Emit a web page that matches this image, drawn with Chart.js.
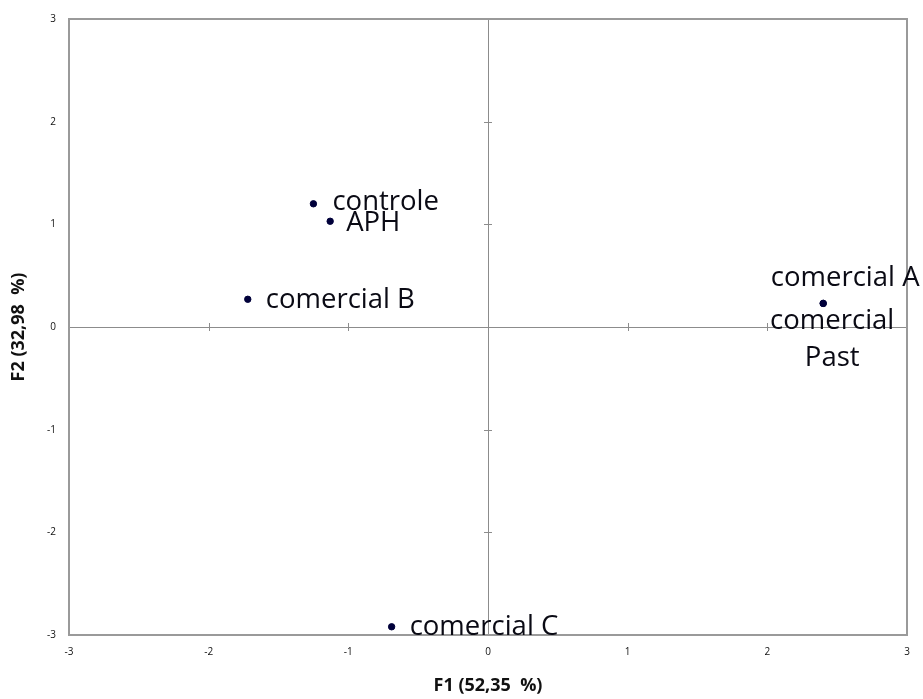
<!DOCTYPE html>
<html><head><meta charset="utf-8">
<script src="https://cdn.jsdelivr.net/npm/chart.js@4.4.0/dist/chart.umd.min.js"></script>
<style>html,body{margin:0;padding:0;background:#fff}#wrap{width:923px;height:699px}</style>
</head><body><div id="wrap"><canvas id="c" width="923" height="699"></canvas></div>
<script>
const names = ["controle", "APH", "comercial B", "comercial C", "comercial A", "comercial Past"];
const f1Values = [-1.25, -1.13, -1.72, -0.69, 2.40, 2.40];
const f2Values = [1.20, 1.03, 0.27, -2.92, 0.23, 0.23];
const tickValues = [-3, -2, -1, 0, 1, 2, 3];
const xTitle = "F1 (52,35  %)";
const yTitle = "F2 (32,98  %)";

const FONT = "'Open Sans', 'DejaVu Sans', sans-serif";
// label placement relative to point (px)
const labelStyle = {
  "controle": {dx: 19, dy: -2, align: "left"},
  "APH": {dx: 16, dy: 2, align: "left"},
  "comercial B": {dx: 18, dy: 1, align: "left"},
  "comercial C": {dx: 18, dy: 0, align: "left"},
  "comercial A": {dx: 22, dy: -25, align: "center"},
  "comercial Past": {dx: 9, dy: 18, align: "center", lines: ["comercial", "Past"], lh: 37}
};

const axesPlugin = {
  id: "axesCross",
  beforeDatasetsDraw(chart) {
    const {ctx, chartArea: a, scales: {x, y}} = chart;
    const x0 = x.getPixelForValue(0), y0 = y.getPixelForValue(0);
    ctx.save();
    ctx.strokeStyle = "#8c8c8c";
    ctx.lineWidth = 1;
    ctx.beginPath();
    ctx.moveTo(a.left, Math.round(y0) + 0.5); ctx.lineTo(a.right, Math.round(y0) + 0.5);
    ctx.moveTo(Math.round(x0) + 0.5, a.top); ctx.lineTo(Math.round(x0) + 0.5, a.bottom);
    tickValues.forEach(v => {
      if (v === 0) return;
      const px = Math.round(x.getPixelForValue(v)) + 0.5;
      ctx.moveTo(px, y0 - 4); ctx.lineTo(px, y0 + 4);
      const py = Math.round(y.getPixelForValue(v)) + 0.5;
      ctx.moveTo(x0 - 4, py); ctx.lineTo(x0 + 4, py);
    });
    ctx.stroke();
    ctx.lineWidth = 2;
    ctx.strokeStyle = "#9a9a9a";
    ctx.strokeRect(a.left, a.top, a.right - a.left, a.bottom - a.top);
    ctx.restore();
  },
  afterDatasetsDraw(chart) {
    const {ctx} = chart;
    const meta = chart.getDatasetMeta(0);
    ctx.save();
    ctx.fillStyle = "#0a0a14";
    ctx.font = "27.5px " + FONT;
    ctx.textBaseline = "middle";
    meta.data.forEach((pt, i) => {
      const s = labelStyle[names[i]];
      ctx.textAlign = s.align;
      const lines = s.lines || [names[i]];
      lines.forEach((ln, k) => {
        ctx.fillText(ln, pt.x + s.dx, pt.y + s.dy + k * (s.lh || 0));
      });
    });
    ctx.restore();
  }
};

new Chart(document.getElementById("c"), {
  type: "scatter",
  data: {
    datasets: [{
      data: f1Values.map((v, i) => ({x: v, y: f2Values[i]})),
      backgroundColor: "#00003a",
      borderColor: "#00003a",
      pointRadius: 3.2,
      pointHoverRadius: 3.2
    }]
  },
  options: {
    responsive: false,
    animation: false,
    layout: {padding: {left: 8, right: 16, top: 19, bottom: 2}},
    plugins: {legend: {display: false}, tooltip: {enabled: false}},
    scales: {
      x: {
        type: "linear", min: -3, max: 3,
        afterBuildTicks: s => { s.ticks = tickValues.map(v => ({value: v})); },
        grid: {display: false, drawTicks: false},
        border: {display: false},
        ticks: {color: "#111", font: {size: 10, family: FONT}, padding: 11, maxRotation: 0},
        title: {display: true, text: xTitle, color: "#111", font: {size: 18, weight: "bold", family: FONT}, padding: {top: 4, bottom: 0}},
        afterFit: s => { s.height = 62; }
      },
      y: {
        type: "linear", min: -3, max: 3,
        afterBuildTicks: s => { s.ticks = tickValues.map(v => ({value: v})); },
        grid: {display: false, drawTicks: false},
        border: {display: false},
        ticks: {color: "#111", font: {size: 10, family: FONT}, padding: 13},
        title: {display: true, text: yTitle, color: "#111", font: {size: 18, weight: "bold", family: FONT}, padding: {top: 0, bottom: 8}},
        afterFit: s => { s.width = 61; }
      }
    }
  },
  plugins: [axesPlugin]
});
</script></body></html>
